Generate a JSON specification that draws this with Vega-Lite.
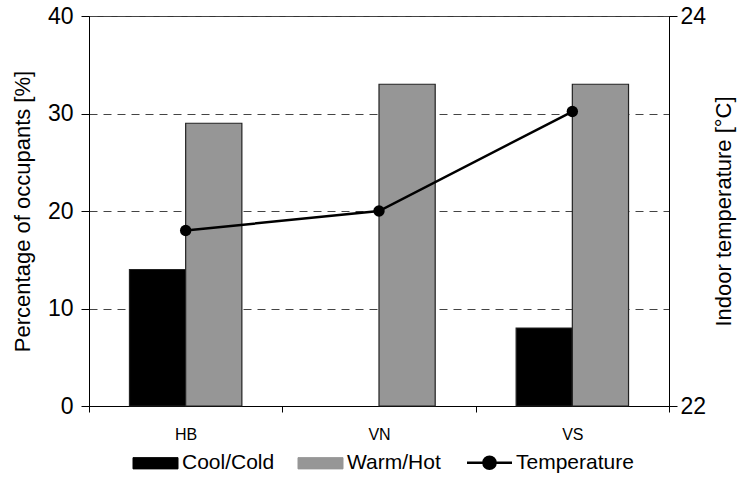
{
  "$schema": "https://vega.github.io/schema/vega-lite/v6.json",
  "width": 580,
  "height": 390,
  "autosize": {"type": "none"},
  "padding": {"left": 89, "top": 16, "right": 71, "bottom": 73},
  "background": "white",
  "config": {
    "font": "Liberation Sans",
    "view": {"stroke": "#333333", "strokeWidth": 1},
    "axis": {"labelColor": "black", "titleColor": "black", "domainColor": "black", "tickColor": "black", "titleFontWeight": "normal"}
  },
  "datasets": {
    "bars": [
      {"station": "HB", "condition": "Cool/Cold", "percent": 14},
      {"station": "HB", "condition": "Warm/Hot", "percent": 29},
      {"station": "VN", "condition": "Warm/Hot", "percent": 33},
      {"station": "VS", "condition": "Cool/Cold", "percent": 8},
      {"station": "VS", "condition": "Warm/Hot", "percent": 33}
    ],
    "temp": [
      {"station": "HB", "series": "Temperature", "temperature": 22.9},
      {"station": "VN", "series": "Temperature", "temperature": 23.0},
      {"station": "VS", "series": "Temperature", "temperature": 23.51}
    ]
  },
  "layer": [
    {
      "data": {"name": "bars"},
      "mark": {"type": "bar", "stroke": "#222222", "strokeWidth": 1.2},
      "encoding": {
        "x": {
          "field": "station", "type": "nominal", "sort": ["HB", "VN", "VS"],
          "scale": {"paddingInner": 0, "paddingOuter": 0},
          "axis": {"title": null, "labelAngle": 0, "labelFontSize": 16, "labelPadding": 14, "tickBand": "extent", "tickSize": 6, "grid": false}
        },
        "xOffset": {
          "field": "condition", "type": "nominal",
          "scale": {"domain": ["Cool/Cold", "Warm/Hot"], "paddingInner": 0, "paddingOuter": 0.72}
        },
        "y": {
          "field": "percent", "type": "quantitative",
          "scale": {"domain": [0, 40]},
          "axis": {
            "title": "Percentage of occupants [%]", "titleFontSize": 22, "titlePadding": 13,
            "values": [0, 10, 20, 30, 40], "labelFontSize": 23, "labelPadding": 8, "tickSize": 8,
            "grid": true, "gridDash": [8, 6], "gridColor": "#444444", "gridWidth": 1
          }
        },
        "color": {
          "field": "condition", "type": "nominal",
          "scale": {"domain": ["Cool/Cold", "Warm/Hot", "Temperature"], "range": ["#000000", "#969696", "#000000"]},
          "legend": {
            "orient": "none", "legendX": 56, "legendY": 436, "direction": "horizontal", "title": null,
            "labelFontSize": 21, "labelColor": "black", "labelLimit": 300, "labelOffset": 16,
            "symbolSize": 2025, "symbolType": "M-1,-0.25H1V0.25H-1Z", "columnPadding": 21,
            "encode": {
              "symbols": {
                "update": {
                  "shape": {"signal": "datum.value === 'Temperature' ? 'M-1,0H1M0.27,0A0.27,0.27,0,1,1,-0.27,0A0.27,0.27,0,1,1,0.27,0Z' : 'M-1,-0.25H1V0.25H-1Z'"},
                  "fill": {"signal": "datum.value === 'Warm/Hot' ? '#969696' : '#000000'"},
                  "stroke": {"signal": "datum.value === 'Warm/Hot' ? '#333333' : '#000000'"},
                  "strokeWidth": {"signal": "datum.value === 'Temperature' ? 2.5 : 1"},
                  "opacity": {"value": 1},
                  "fillOpacity": {"value": 1}
                }
              }
            }
          }
        }
      }
    },
    {
      "data": {"name": "temp"},
      "mark": {"type": "line", "strokeWidth": 2.5, "point": {"filled": true, "size": 130, "opacity": 1}},
      "encoding": {
        "x": {"field": "station", "type": "nominal", "sort": ["HB", "VN", "VS"]},
        "y": {
          "field": "temperature", "type": "quantitative",
          "scale": {"domain": [22, 24]},
          "axis": {
            "orient": "right", "title": "Indoor temperature [°C]", "titleFontSize": 22, "titlePadding": 30, "titleAngle": 270,
            "values": [22, 23, 24], "format": "d", "labelFontSize": 23, "labelPadding": 3, "tickSize": 8, "grid": false
          }
        },
        "color": {
          "field": "series", "type": "nominal",
          "legend": {
            "orient": "none", "legendX": 56, "legendY": 436, "direction": "horizontal", "title": null,
            "labelFontSize": 21, "labelColor": "black", "labelLimit": 300, "labelOffset": 16,
            "symbolSize": 2025, "symbolType": "M-1,-0.25H1V0.25H-1Z", "columnPadding": 21,
            "encode": {
              "symbols": {
                "update": {
                  "shape": {"signal": "datum.value === 'Temperature' ? 'M-1,0H1M0.27,0A0.27,0.27,0,1,1,-0.27,0A0.27,0.27,0,1,1,0.27,0Z' : 'M-1,-0.25H1V0.25H-1Z'"},
                  "fill": {"signal": "datum.value === 'Warm/Hot' ? '#969696' : '#000000'"},
                  "stroke": {"signal": "datum.value === 'Warm/Hot' ? '#333333' : '#000000'"},
                  "strokeWidth": {"signal": "datum.value === 'Temperature' ? 2.5 : 1"},
                  "opacity": {"value": 1},
                  "fillOpacity": {"value": 1}
                }
              }
            }
          }
        }
      }
    }
  ],
  "resolve": {"scale": {"y": "independent"}}
}
